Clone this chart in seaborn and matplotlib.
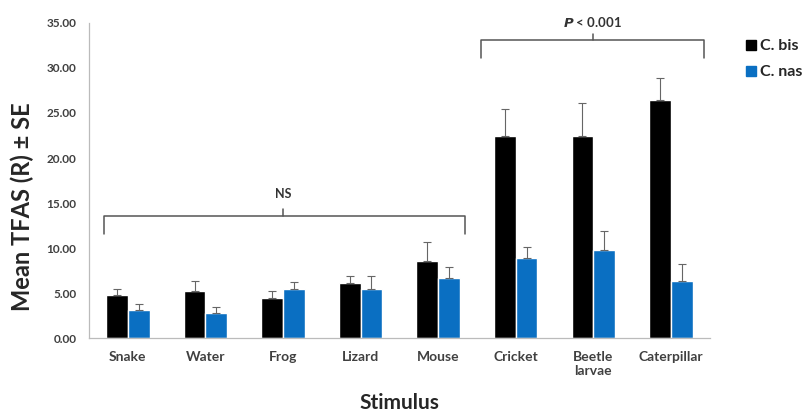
import numpy as np
import pandas as pd
import matplotlib
matplotlib.use("Agg")
import matplotlib.pyplot as plt
import seaborn as sns
from matplotlib.ticker import FixedLocator, FormatStrFormatter

# Data
stimuli = ['Snake', 'Water', 'Frog', 'Lizard', 'Mouse', 'Cricket', 'Beetle\nlarvae', 'Caterpillar']
species = ['C. bis', 'C. nas']
bis_mean = [4.74, 5.22, 4.48, 6.11, 8.56, 22.5, 22.5, 26.44]
bis_se = [0.74, 1.11, 0.71, 0.74, 2.07, 2.9, 3.6, 2.41]
nas_mean = [3.10, 2.74, 5.44, 5.44, 6.63, 8.85, 9.78, 6.37]
nas_se = [0.68, 0.74, 0.82, 1.41, 1.30, 1.22, 2.12, 1.85]

df = pd.DataFrame({
    'Stimulus': stimuli * 2,
    'Species': [species[0]] * len(stimuli) + [species[1]] * len(stimuli),
    'Mean': bis_mean + nas_mean,
    'SE': bis_se + nas_se,
})

sns.set_style("white")
plt.rcParams['font.family'] = ['Lato', 'DejaVu Sans']
plt.rcParams['font.weight'] = 'bold'

fig = plt.figure(figsize=(8.12, 4.15), dpi=100)
ax = fig.add_axes([0.1096, 0.1855, 0.7644, 0.7591])

palette = {'C. bis': '#000000', 'C. nas': '#0A6FC2'}
sns.barplot(data=df, x='Stimulus', y='Mean', hue='Species', palette=palette,
            width=0.56, errorbar=None, saturation=1, ax=ax, legend=False)

# upward-only error bars placed on the drawn bars
for cont, sp in zip(ax.containers, species):
    sub = df[df['Species'] == sp]
    xs = [p.get_x() + p.get_width() / 2 for p in cont.patches]
    ax.errorbar(xs, sub['Mean'].values, yerr=[np.zeros(len(sub)), sub['SE'].values],
                fmt='none', ecolor='#666666', elinewidth=0.8, capsize=3, capthick=0.8)

ax.set_ylim(0, 35)
ax.set_xlim(-0.5, len(stimuli) - 0.5)
ax.set_yticks(np.arange(0, 36, 5))
ax.yaxis.set_major_formatter(FormatStrFormatter('%.2f'))
ax.xaxis.set_minor_locator(FixedLocator(np.arange(-0.5, len(stimuli), 1.0)))
ax.tick_params(axis='x', which='major', length=0, pad=9, labelsize=10, labelcolor='#404040')
ax.tick_params(axis='x', which='minor', length=4, color='#bbbbbb', direction='out')
ax.tick_params(axis='y', length=4, color='#bbbbbb', direction='out', labelsize=8.5,
               labelcolor='#404040', pad=5)
for lbl in ax.get_xticklabels() + ax.get_yticklabels():
    lbl.set_fontweight('bold')

sns.despine(ax=ax)
for s in ['left', 'bottom']:
    ax.spines[s].set_color('#bbbbbb')
    ax.spines[s].set_linewidth(0.9)

ax.set_ylabel('Mean TFAS (R) ± SE', fontsize=17, fontweight='bold')
ax.yaxis.set_label_coords(-0.088, 0.416)
ax.set_xlabel('Stimulus', fontsize=15, fontweight='bold')
ax.xaxis.set_label_coords(0.5, -0.175)

# significance brackets
br = dict(color='#555555', lw=1.1, clip_on=False)
ax.plot([-0.31, -0.31, 4.35, 4.35], [11.6, 13.55, 13.55, 11.6], **br)
ax.plot([2.0, 2.0], [13.55, 14.3], **br)
ax.text(2.0, 15.3, 'NS', ha='center', va='bottom', fontsize=9, fontweight='bold', color='#333333')

ax.plot([4.55, 4.55, 7.43, 7.43], [31.1, 33.1, 33.1, 31.1], **br)
ax.plot([5.99, 5.99], [33.1, 33.8], **br)
ax.text(5.99, 34.3, r'$\bf{\it{P}}$ < 0.001', ha='center', va='bottom', fontsize=9.5,
        fontweight='bold', color='#333333', clip_on=False)

# legend outside the axes
handles = [plt.Rectangle((0, 0), 1, 1, color=palette[s]) for s in species]
fig.legend(handles, species, loc='upper left', bbox_to_anchor=(0.919, 0.905), frameon=False,
           prop={'weight': 'bold', 'size': 11.5}, handlelength=0.6, handleheight=0.6,
           handletextpad=0.25, labelspacing=0.75, borderpad=0, borderaxespad=0)

fig.savefig('out.png', dpi=100)
